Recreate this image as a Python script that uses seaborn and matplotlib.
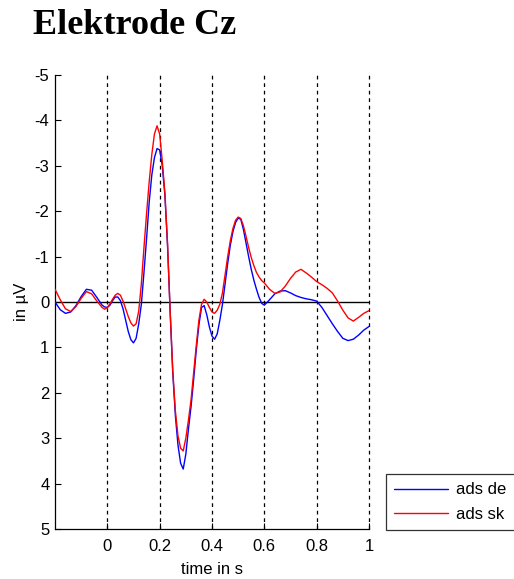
import numpy as np
import pandas as pd
import matplotlib
matplotlib.use("Agg")
import matplotlib.pyplot as plt
import seaborn as sns

# Grand-average ERP at electrode Cz (time in s, amplitude in µV)
time_s = [
    -0.20, -0.18, -0.16, -0.14, -0.12, -0.10, -0.08, -0.06, -0.04, -0.02, -0.01,
    0.00, 0.01, 0.02, 0.03, 0.04, 0.05, 0.06, 0.07, 0.08, 0.09,
    0.10, 0.11, 0.12, 0.13, 0.14, 0.15, 0.16, 0.17, 0.18, 0.19,
    0.20, 0.21, 0.22, 0.23, 0.24, 0.25, 0.26, 0.27, 0.28, 0.29,
    0.30, 0.31, 0.32, 0.33, 0.34, 0.35, 0.36, 0.37, 0.38, 0.39,
    0.40, 0.41, 0.42, 0.43, 0.44, 0.45, 0.46, 0.47, 0.48, 0.49,
    0.50, 0.51, 0.52, 0.53, 0.54, 0.55, 0.56, 0.57, 0.58, 0.59,
    0.60, 0.62, 0.64, 0.66, 0.68, 0.70, 0.72, 0.74, 0.76, 0.78,
    0.80, 0.82, 0.84, 0.86, 0.88, 0.90, 0.92, 0.94, 0.96, 0.98, 1.00,
]

ads_de = [
    0.00, 0.17, 0.25, 0.22, 0.08, -0.12, -0.28, -0.26, -0.10, 0.07, 0.11,
    0.12, 0.07, -0.03, -0.11, -0.11, -0.03, 0.15, 0.40, 0.65, 0.83,
    0.90, 0.80, 0.48, 0.05, -0.65, -1.40, -2.20, -2.80, -3.18, -3.38,
    -3.35, -3.00, -2.35, -1.25, 0.20, 1.55, 2.50, 3.15, 3.55, 3.68,
    3.35, 2.80, 2.30, 1.70, 1.05, 0.50, 0.12, 0.08, 0.28, 0.55,
    0.75, 0.82, 0.70, 0.40, 0.05, -0.40, -0.85, -1.25, -1.55, -1.75,
    -1.85, -1.82, -1.60, -1.30, -1.00, -0.72, -0.48, -0.28, -0.10, 0.03,
    0.07, -0.05, -0.18, -0.24, -0.25, -0.20, -0.14, -0.10, -0.07, -0.05,
    -0.02, 0.12, 0.30, 0.48, 0.65, 0.80, 0.85, 0.82, 0.73, 0.62, 0.54,
]

ads_sk = [
    -0.28, -0.05, 0.15, 0.21, 0.10, -0.08, -0.23, -0.18, -0.02, 0.12, 0.16,
    0.12, 0.04, -0.06, -0.15, -0.19, -0.15, -0.02, 0.15, 0.32, 0.46,
    0.53, 0.48, 0.20, -0.40, -1.20, -1.95, -2.65, -3.25, -3.70, -3.88,
    -3.70, -3.10, -2.40, -1.30, 0.20, 1.50, 2.40, 2.95, 3.22, 3.28,
    3.00, 2.60, 2.15, 1.55, 0.95, 0.40, 0.05, -0.06, 0.00, 0.12,
    0.22, 0.25, 0.18, 0.05, -0.20, -0.60, -1.00, -1.35, -1.62, -1.80,
    -1.87, -1.84, -1.68, -1.45, -1.20, -0.98, -0.80, -0.65, -0.55, -0.47,
    -0.42, -0.28, -0.19, -0.22, -0.35, -0.52, -0.66, -0.72, -0.64, -0.55,
    -0.45, -0.38, -0.30, -0.20, -0.02, 0.18, 0.35, 0.42, 0.34, 0.25, 0.19,
]

conditions = ["ads de", "ads sk"]
line_colors = {"ads de": "#0000ff", "ads sk": "#ff0000"}
x_ticks = [0, 0.2, 0.4, 0.6, 0.8, 1]
x_tick_labels = ["0", "0.2", "0.4", "0.6", "0.8", "1"]
y_ticks = [-5, -4, -3, -2, -1, 0, 1, 2, 3, 4, 5]
marker_times = [0, 0.2, 0.4, 0.6, 0.8, 1.0]

df = pd.concat([
    pd.DataFrame({"time": time_s, "amplitude": ads_de, "condition": conditions[0]}),
    pd.DataFrame({"time": time_s, "amplitude": ads_sk, "condition": conditions[1]}),
])

sns.set_style("ticks")
plt.rcParams["font.family"] = ["Liberation Sans", "DejaVu Sans"]
plt.rcParams.update({
    "text.color": "black",
    "axes.labelcolor": "black",
    "xtick.color": "black",
    "ytick.color": "black",
    "axes.edgecolor": "black",
})

fig = plt.figure(figsize=(5.14, 5.79), dpi=100)
ax = fig.add_axes([55 / 514, 1 - 529 / 579, (369 - 55) / 514, (529 - 75) / 579])

# reference lines: stimulus grid and zero baseline
for t in marker_times:
    ax.axvline(t, color="black", linestyle=(0, (3, 3)), linewidth=0.9,
               zorder=1, clip_on=False)
ax.axhline(0, color="black", linewidth=1.0, zorder=1)

sns.lineplot(data=df, x="time", y="amplitude", hue="condition",
             palette=line_colors, linewidth=1.0, ax=ax, zorder=3)

ax.set_xlim(-0.2, 1.0)
ax.set_ylim(5, -5)
ax.set_xticks(x_ticks)
ax.set_xticklabels(x_tick_labels)
ax.set_yticks(y_ticks)
ax.set_yticklabels([str(v) for v in y_ticks])
ax.tick_params(direction="in", length=4, width=0.8, colors="black",
               labelcolor="black", labelsize=12)
ax.tick_params(axis="x", pad=7)
ax.tick_params(axis="y", pad=4)
for side in ("top", "right"):
    ax.spines[side].set_visible(False)
for side in ("left", "bottom"):
    ax.spines[side].set_color("black")
    ax.spines[side].set_linewidth(0.9)

ax.set_xlabel("time in s", fontsize=12, labelpad=6, color="black")
ax.set_ylabel("in µV", fontsize=12, labelpad=4, color="black")

leg = ax.legend(loc="lower left", bbox_to_anchor=(386 / 514, 1 - 530 / 579),
                bbox_transform=fig.transFigure, borderaxespad=0,
                fancybox=False, frameon=True, edgecolor="black",
                fontsize=12, handlelength=3.2, handletextpad=0.5,
                labelspacing=0.55, borderpad=0.5, title=None)
leg.get_frame().set_linewidth(0.9)
for txt in leg.get_texts():
    txt.set_color("black")

fig.text(33 / 514, 1 - 26 / 579, "Elektrode Cz", fontsize=26, color="black",
         fontweight="bold", family="Liberation Serif", va="center", ha="left")

fig.savefig("out.png", dpi=100)
